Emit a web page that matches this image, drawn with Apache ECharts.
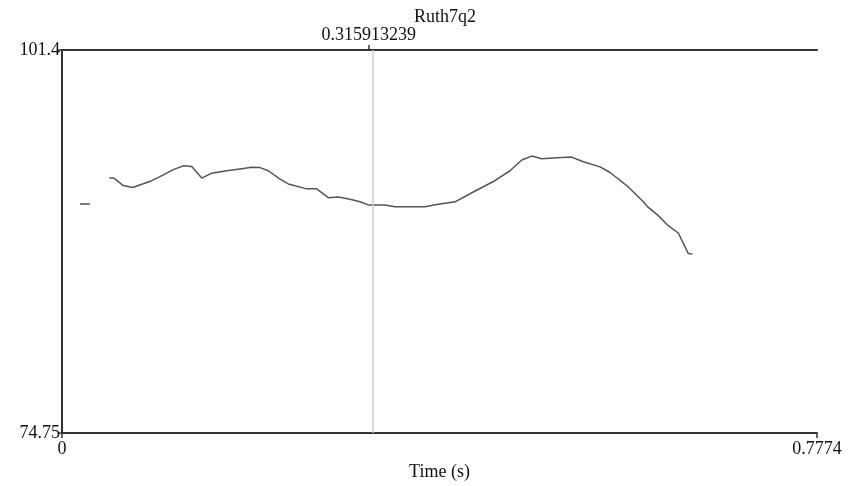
<!DOCTYPE html>
<html>
<head>
<meta charset="utf-8">
<script src="https://cdn.jsdelivr.net/npm/echarts@6/dist/echarts.min.js"></script>
<style>html,body{margin:0;padding:0;background:#fff;overflow:hidden}#c{width:856px;height:486px}</style>
</head>
<body>
<div id="c"></div>
<script>
const chartTitle = 'Ruth7q2';
const xAxisName = 'Time (s)';
const xMin = 0, xMax = 0.7774;
const yMin = 74.75, yMax = 101.4;
const cursorTime = 0.315913239;
const cursorLabel = '0.315913239';

// isolated first segment
const timeSegA = [0.0185, 0.0288];
const valueSegA = [90.68, 90.68];

// main trace
const timeMain = [0.0487, 0.0535, 0.0631, 0.0728, 0.0924, 0.1009, 0.1146, 0.1249, 0.1336, 0.1439,
  0.1542, 0.1696, 0.1833, 0.1953, 0.2039, 0.2124, 0.2245, 0.2330, 0.2520, 0.2623,
  0.2742, 0.2845, 0.2966, 0.3069, 0.3159, 0.3326, 0.3429, 0.3738, 0.3858, 0.4047,
  0.4235, 0.4441, 0.4613, 0.4734, 0.4837, 0.4940, 0.5094, 0.5248, 0.5368, 0.5540,
  0.5643, 0.5815, 0.5986, 0.6037, 0.6140, 0.6243, 0.6346, 0.6449, 0.6494];
const valueMain = [92.49, 92.49, 91.97, 91.84, 92.31, 92.59, 93.08, 93.34, 93.29, 92.49,
  92.83, 93.00, 93.13, 93.24, 93.22, 93.00, 92.42, 92.08, 91.74, 91.74,
  91.13, 91.18, 91.02, 90.84, 90.61, 90.61, 90.49, 90.49, 90.65, 90.84,
  91.52, 92.25, 93.00, 93.75, 94.02, 93.83, 93.90, 93.95, 93.63, 93.27,
  92.88, 91.97, 90.84, 90.45, 89.88, 89.18, 88.67, 87.24, 87.20];

const segA = timeSegA.map((t, i) => [t, valueSegA[i]]);
const main = timeMain.map((t, i) => [t, valueMain[i]]);

const font = 'Liberation Serif, Times New Roman, serif';
const axisColor = '#333';
const lineColor = '#555';

const chart = echarts.init(document.getElementById('c'), null, {renderer: 'canvas', width: 856, height: 486});
chart.setOption({
  animation: false,
  backgroundColor: '#fff',
  title: {
    text: chartTitle,
    left: 440, top: 3, textAlign: 'center',
    textStyle: {fontFamily: font, fontSize: 18, fontWeight: 'normal', color: '#111'}
  },
  grid: {left: 62, right: 39, top: 50, bottom: 45, containLabel: false},
  xAxis: [{
    type: 'value', min: xMin, max: xMax, position: 'bottom',
    name: xAxisName, nameLocation: 'middle', nameGap: 27,
    nameTextStyle: {fontFamily: font, fontSize: 18, color: '#111'},
    axisLine: {show: true, lineStyle: {color: axisColor, width: 2}},
    axisTick: {show: true, customValues: [xMin, xMax], length: 5, lineStyle: {color: axisColor, width: 1.5}},
    axisLabel: {customValues: [xMin, xMax], margin: 7, fontFamily: font, fontSize: 18, color: '#111',
      formatter: v => String(v)},
    splitLine: {show: false}
  }, {
    type: 'value', min: xMin, max: xMax, position: 'top',
    axisLine: {show: true, onZero: false, lineStyle: {color: axisColor, width: 2}},
    axisTick: {show: true, customValues: [cursorTime], length: 5, lineStyle: {color: axisColor, width: 1.5}},
    axisLabel: {show: true, customValues: [cursorTime], margin: 6, fontFamily: font, fontSize: 18, color: '#111',
      formatter: () => cursorLabel},
    splitLine: {show: false}
  }],
  yAxis: [{
    type: 'value', min: yMin, max: yMax, position: 'left',
    axisLine: {show: true, lineStyle: {color: axisColor, width: 2}},
    axisTick: {show: true, customValues: [yMin, yMax], length: 4, lineStyle: {color: axisColor, width: 1.5}},
    axisLabel: {customValues: [yMin, yMax], margin: 2, fontFamily: font, fontSize: 18, color: '#111',
      formatter: v => String(v)},
    splitLine: {show: false}
  }, {
    type: 'value', min: yMin, max: yMax, position: 'right',
    axisLine: {show: true, lineStyle: {color: axisColor, width: 2}},
    axisTick: {show: false}, axisLabel: {show: false}, splitLine: {show: false}
  }],
  series: [{
    type: 'line', data: segA, showSymbol: false, symbol: 'none',
    lineStyle: {color: lineColor, width: 1.5}
  }, {
    type: 'line', data: main, showSymbol: false, symbol: 'none',
    lineStyle: {color: lineColor, width: 1.5},
    markLine: {
      silent: true, symbol: 'none', label: {show: false},
      lineStyle: {color: '#cccccc', type: 'solid', width: 1.5},
      data: [{xAxis: cursorTime}]
    }
  }]
});
</script>
</body>
</html>
